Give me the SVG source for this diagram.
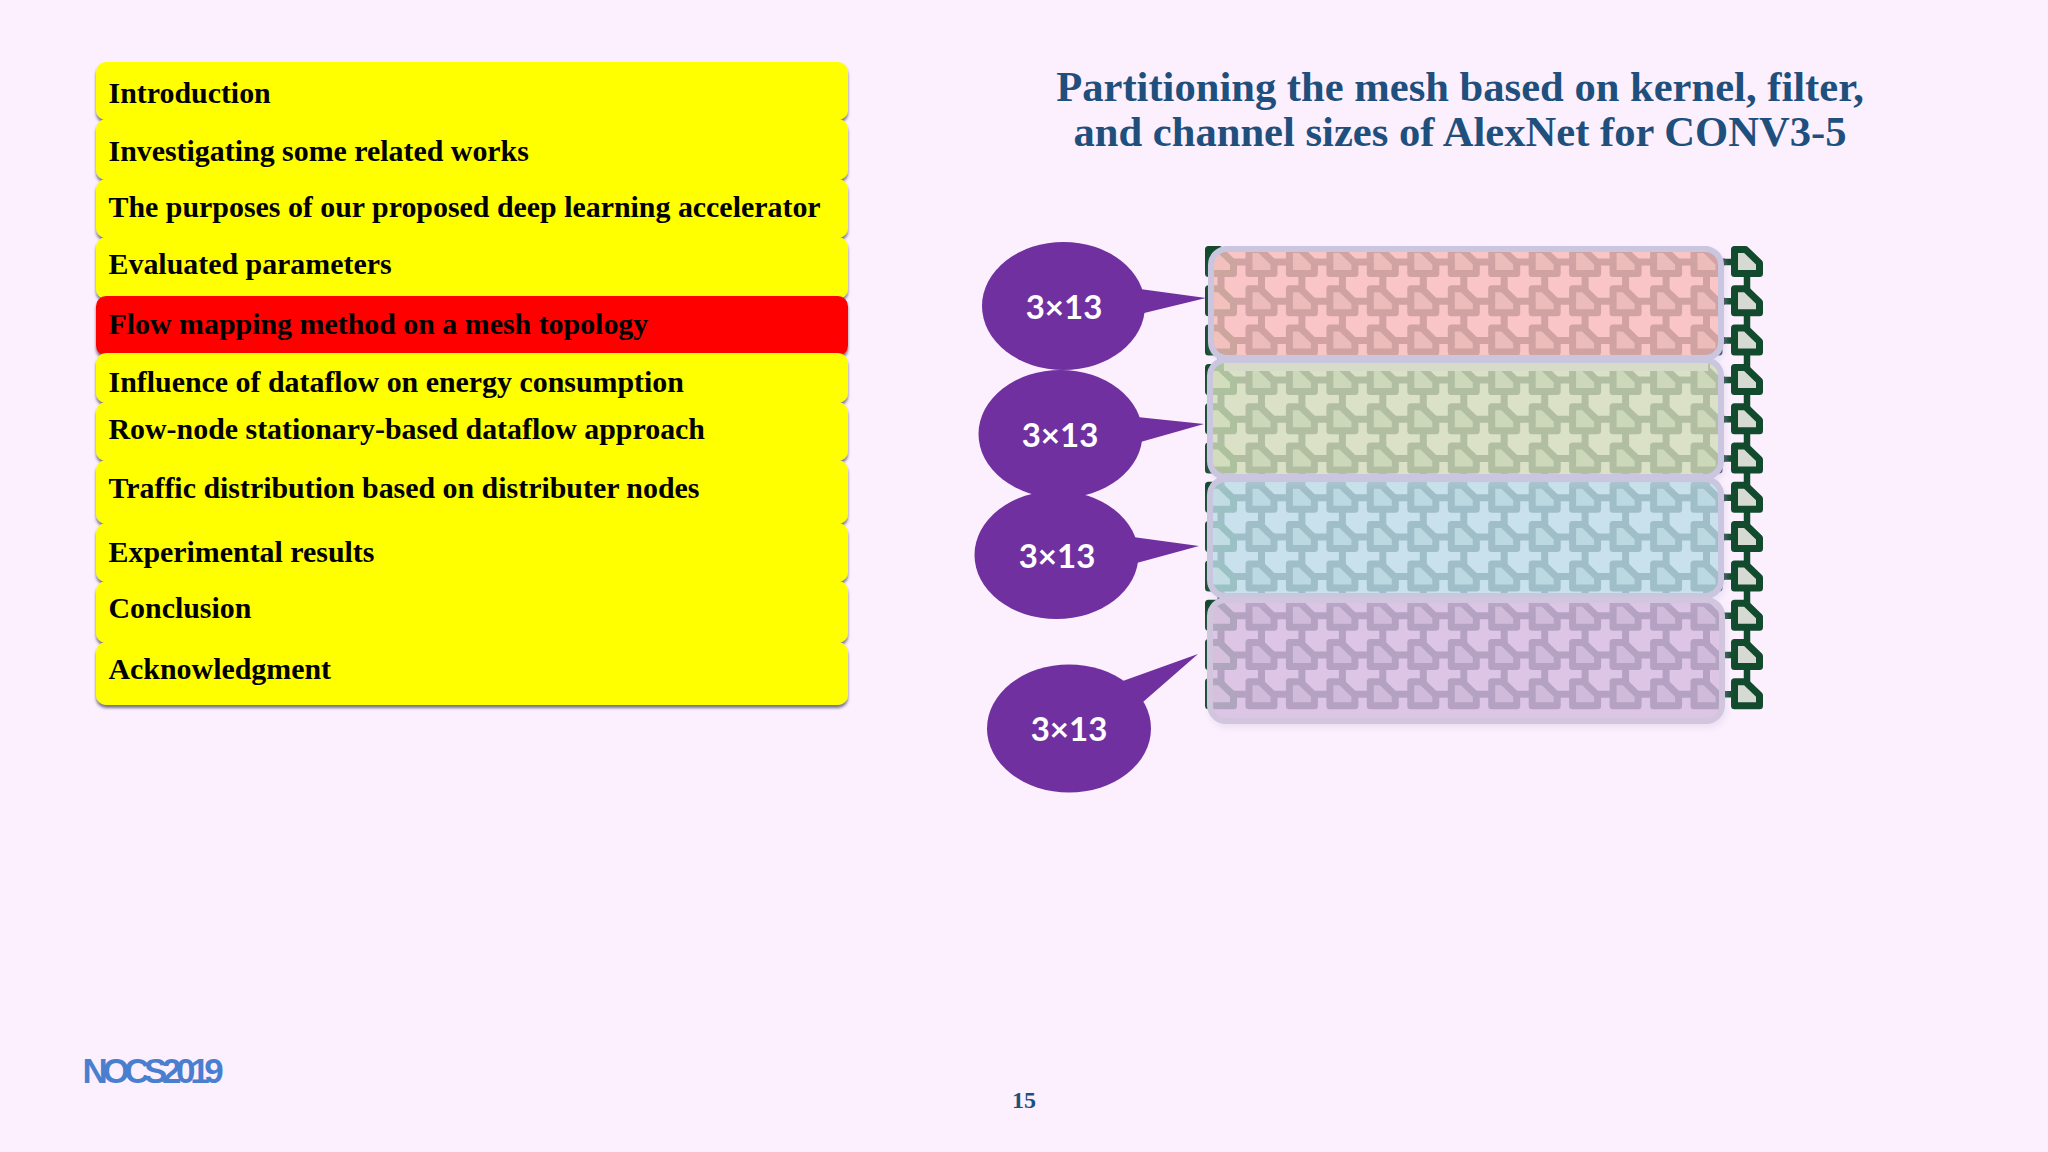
<svg xmlns="http://www.w3.org/2000/svg" width="2048" height="1152" viewBox="0 0 2048 1152">
<style>
.row{stroke:none;filter:url(#ls)}
.y{fill:#ffff00}.r{fill:#ff0000}
.t{font:bold 29.900px "Liberation Serif",serif;fill:#000}
.h{font:bold 42.600px "Liberation Serif",serif;fill:#1f4f7c;text-anchor:middle}
.b{fill:#7030a0}
.bt{font:bold 33px Lato,"Open Sans",sans-serif;fill:#fff;text-anchor:middle}
.band{stroke-width:6;filter:url(#bs)}
.lnk{fill:none;stroke:#2a3a44;stroke-width:7}
.lnk.e{stroke:#124a2e;stroke-width:6.500}
#mesh{fill:#b8c2c4;stroke:#2a3a44}
#mesh .e{fill:#d6dad2;stroke:#124a2e}
</style>
<defs>
<filter id="ls" x="-5%" y="-20%" width="110%" height="140%"><feDropShadow dx="0" dy="3" stdDeviation="1.500" flood-color="#55556a" flood-opacity=".8"/></filter>
<filter id="bs" x="-5%" y="-10%" width="110%" height="125%"><feDropShadow dx="2" dy="4" stdDeviation="3" flood-color="#c8c4dc" flood-opacity=".35"/></filter>
<path id="n" d="M3.500 3.500H14.500L28.500 17V27.500H3.500Z" stroke-width="7" stroke-linejoin="round"/>
</defs>
<rect width="2048" height="1152" fill="#fcf0fe"/>
<g id="toc">
<rect id="toc1" class="row y" x="96" y="62" width="752" height="58" rx="10"/>
<rect id="toc2" class="row y" x="96" y="119" width="752" height="61" rx="10"/>
<rect id="toc3" class="row y" x="96" y="179" width="752" height="59" rx="10"/>
<rect id="toc4" class="row y" x="96" y="237" width="752" height="62" rx="10"/>
<rect id="toc5" class="row r" x="96" y="296" width="752" height="60" rx="10"/>
<rect id="toc6" class="row y" x="96" y="353" width="752" height="50" rx="10"/>
<rect id="toc7" class="row y" x="96" y="402" width="752" height="59" rx="10"/>
<rect id="toc8" class="row y" x="96" y="460" width="752" height="64" rx="10"/>
<rect id="toc9" class="row y" x="96" y="523" width="752" height="59" rx="10"/>
<rect id="toc10" class="row y" x="96" y="581" width="752" height="62" rx="10"/>
<rect id="toc11" class="row y" x="96" y="642" width="752" height="63" rx="10"/>
<text class="t" x="108.500" y="102.700">Introduction</text>
<text class="t" x="108.500" y="160.700">Investigating some related works</text>
<text class="t" x="108.500" y="216.700">The purposes of our proposed deep learning accelerator</text>
<text class="t" x="108.500" y="273.700">Evaluated parameters</text>
<text class="t" x="108.500" y="333.700">Flow mapping method on a mesh topology</text>
<text class="t" x="108.500" y="391.700">Influence of dataflow on energy consumption</text>
<text class="t" x="108.500" y="438.700">Row-node stationary-based dataflow approach</text>
<text class="t" x="108.500" y="497.700">Traffic distribution based on distributer nodes</text>
<text class="t" x="108.500" y="561.700">Experimental results</text>
<text class="t" x="108.500" y="617.700">Conclusion</text>
<text class="t" x="108.500" y="678.700">Acknowledgment</text>
</g>
<text class="h" x="1460" y="100.600">Partitioning the mesh based on kernel, filter,</text>
<text class="h" x="1460" y="145.600">and channel sizes of AlexNet for CONV3-5</text>
<g id="connectors">
<path class="lnk" d="M1221 262H1725M1221 301.300H1725M1221 340.600H1725M1221 379.900H1725M1221 419.200H1725M1221 458.500H1725M1221 497.800H1725M1221 537.100H1725M1221 576.400H1725M1221 615.700H1725M1221 655H1725M1221 694.300H1725"/>
<path class="lnk" d="M1221 262V694M1261.500 262V694M1301.900 262V694M1342.400 262V694M1382.800 262V694M1423.300 262V694M1463.800 262V694M1504.200 262V694M1544.700 262V694M1585.100 262V694M1625.600 262V694M1666.100 262V694M1706.500 262V694"/>
<path class="lnk e" d="M1725 262H1747M1725 301.300H1747M1725 340.600H1747M1725 379.900H1747M1725 419.200H1747M1725 458.500H1747M1725 497.800H1747M1725 537.100H1747M1725 576.400H1747M1725 615.700H1747M1725 655H1747M1725 694.300H1747M1747 262V694"/>
</g>
<g id="mesh">
<g id="r0c0" class="e"><use href="#n" x="1205" y="246"/></g><g id="r0c1"><use href="#n" x="1245.500" y="246"/></g><g id="r0c2"><use href="#n" x="1285.900" y="246"/></g><g id="r0c3"><use href="#n" x="1326.400" y="246"/></g><g id="r0c4"><use href="#n" x="1366.800" y="246"/></g><g id="r0c5"><use href="#n" x="1407.300" y="246"/></g><g id="r0c6"><use href="#n" x="1447.800" y="246"/></g><g id="r0c7"><use href="#n" x="1488.200" y="246"/></g><g id="r0c8"><use href="#n" x="1528.700" y="246"/></g><g id="r0c9"><use href="#n" x="1569.100" y="246"/></g><g id="r0c10"><use href="#n" x="1609.600" y="246"/></g><g id="r0c11"><use href="#n" x="1650.100" y="246"/></g><g id="r0c12"><use href="#n" x="1690.500" y="246"/></g><g id="r0c13" class="e"><use href="#n" x="1731" y="246"/></g>
<g id="r1c0" class="e"><use href="#n" x="1205" y="285.300"/></g><g id="r1c1"><use href="#n" x="1245.500" y="285.300"/></g><g id="r1c2"><use href="#n" x="1285.900" y="285.300"/></g><g id="r1c3"><use href="#n" x="1326.400" y="285.300"/></g><g id="r1c4"><use href="#n" x="1366.800" y="285.300"/></g><g id="r1c5"><use href="#n" x="1407.300" y="285.300"/></g><g id="r1c6"><use href="#n" x="1447.800" y="285.300"/></g><g id="r1c7"><use href="#n" x="1488.200" y="285.300"/></g><g id="r1c8"><use href="#n" x="1528.700" y="285.300"/></g><g id="r1c9"><use href="#n" x="1569.100" y="285.300"/></g><g id="r1c10"><use href="#n" x="1609.600" y="285.300"/></g><g id="r1c11"><use href="#n" x="1650.100" y="285.300"/></g><g id="r1c12"><use href="#n" x="1690.500" y="285.300"/></g><g id="r1c13" class="e"><use href="#n" x="1731" y="285.300"/></g>
<g id="r2c0" class="e"><use href="#n" x="1205" y="324.600"/></g><g id="r2c1"><use href="#n" x="1245.500" y="324.600"/></g><g id="r2c2"><use href="#n" x="1285.900" y="324.600"/></g><g id="r2c3"><use href="#n" x="1326.400" y="324.600"/></g><g id="r2c4"><use href="#n" x="1366.800" y="324.600"/></g><g id="r2c5"><use href="#n" x="1407.300" y="324.600"/></g><g id="r2c6"><use href="#n" x="1447.800" y="324.600"/></g><g id="r2c7"><use href="#n" x="1488.200" y="324.600"/></g><g id="r2c8"><use href="#n" x="1528.700" y="324.600"/></g><g id="r2c9"><use href="#n" x="1569.100" y="324.600"/></g><g id="r2c10"><use href="#n" x="1609.600" y="324.600"/></g><g id="r2c11"><use href="#n" x="1650.100" y="324.600"/></g><g id="r2c12"><use href="#n" x="1690.500" y="324.600"/></g><g id="r2c13" class="e"><use href="#n" x="1731" y="324.600"/></g>
<g id="r3c0" class="e"><use href="#n" x="1205" y="363.900"/></g><g id="r3c1"><use href="#n" x="1245.500" y="363.900"/></g><g id="r3c2"><use href="#n" x="1285.900" y="363.900"/></g><g id="r3c3"><use href="#n" x="1326.400" y="363.900"/></g><g id="r3c4"><use href="#n" x="1366.800" y="363.900"/></g><g id="r3c5"><use href="#n" x="1407.300" y="363.900"/></g><g id="r3c6"><use href="#n" x="1447.800" y="363.900"/></g><g id="r3c7"><use href="#n" x="1488.200" y="363.900"/></g><g id="r3c8"><use href="#n" x="1528.700" y="363.900"/></g><g id="r3c9"><use href="#n" x="1569.100" y="363.900"/></g><g id="r3c10"><use href="#n" x="1609.600" y="363.900"/></g><g id="r3c11"><use href="#n" x="1650.100" y="363.900"/></g><g id="r3c12"><use href="#n" x="1690.500" y="363.900"/></g><g id="r3c13" class="e"><use href="#n" x="1731" y="363.900"/></g>
<g id="r4c0" class="e"><use href="#n" x="1205" y="403.200"/></g><g id="r4c1"><use href="#n" x="1245.500" y="403.200"/></g><g id="r4c2"><use href="#n" x="1285.900" y="403.200"/></g><g id="r4c3"><use href="#n" x="1326.400" y="403.200"/></g><g id="r4c4"><use href="#n" x="1366.800" y="403.200"/></g><g id="r4c5"><use href="#n" x="1407.300" y="403.200"/></g><g id="r4c6"><use href="#n" x="1447.800" y="403.200"/></g><g id="r4c7"><use href="#n" x="1488.200" y="403.200"/></g><g id="r4c8"><use href="#n" x="1528.700" y="403.200"/></g><g id="r4c9"><use href="#n" x="1569.100" y="403.200"/></g><g id="r4c10"><use href="#n" x="1609.600" y="403.200"/></g><g id="r4c11"><use href="#n" x="1650.100" y="403.200"/></g><g id="r4c12"><use href="#n" x="1690.500" y="403.200"/></g><g id="r4c13" class="e"><use href="#n" x="1731" y="403.200"/></g>
<g id="r5c0" class="e"><use href="#n" x="1205" y="442.500"/></g><g id="r5c1"><use href="#n" x="1245.500" y="442.500"/></g><g id="r5c2"><use href="#n" x="1285.900" y="442.500"/></g><g id="r5c3"><use href="#n" x="1326.400" y="442.500"/></g><g id="r5c4"><use href="#n" x="1366.800" y="442.500"/></g><g id="r5c5"><use href="#n" x="1407.300" y="442.500"/></g><g id="r5c6"><use href="#n" x="1447.800" y="442.500"/></g><g id="r5c7"><use href="#n" x="1488.200" y="442.500"/></g><g id="r5c8"><use href="#n" x="1528.700" y="442.500"/></g><g id="r5c9"><use href="#n" x="1569.100" y="442.500"/></g><g id="r5c10"><use href="#n" x="1609.600" y="442.500"/></g><g id="r5c11"><use href="#n" x="1650.100" y="442.500"/></g><g id="r5c12"><use href="#n" x="1690.500" y="442.500"/></g><g id="r5c13" class="e"><use href="#n" x="1731" y="442.500"/></g>
<g id="r6c0" class="e"><use href="#n" x="1205" y="481.800"/></g><g id="r6c1"><use href="#n" x="1245.500" y="481.800"/></g><g id="r6c2"><use href="#n" x="1285.900" y="481.800"/></g><g id="r6c3"><use href="#n" x="1326.400" y="481.800"/></g><g id="r6c4"><use href="#n" x="1366.800" y="481.800"/></g><g id="r6c5"><use href="#n" x="1407.300" y="481.800"/></g><g id="r6c6"><use href="#n" x="1447.800" y="481.800"/></g><g id="r6c7"><use href="#n" x="1488.200" y="481.800"/></g><g id="r6c8"><use href="#n" x="1528.700" y="481.800"/></g><g id="r6c9"><use href="#n" x="1569.100" y="481.800"/></g><g id="r6c10"><use href="#n" x="1609.600" y="481.800"/></g><g id="r6c11"><use href="#n" x="1650.100" y="481.800"/></g><g id="r6c12"><use href="#n" x="1690.500" y="481.800"/></g><g id="r6c13" class="e"><use href="#n" x="1731" y="481.800"/></g>
<g id="r7c0" class="e"><use href="#n" x="1205" y="521.100"/></g><g id="r7c1"><use href="#n" x="1245.500" y="521.100"/></g><g id="r7c2"><use href="#n" x="1285.900" y="521.100"/></g><g id="r7c3"><use href="#n" x="1326.400" y="521.100"/></g><g id="r7c4"><use href="#n" x="1366.800" y="521.100"/></g><g id="r7c5"><use href="#n" x="1407.300" y="521.100"/></g><g id="r7c6"><use href="#n" x="1447.800" y="521.100"/></g><g id="r7c7"><use href="#n" x="1488.200" y="521.100"/></g><g id="r7c8"><use href="#n" x="1528.700" y="521.100"/></g><g id="r7c9"><use href="#n" x="1569.100" y="521.100"/></g><g id="r7c10"><use href="#n" x="1609.600" y="521.100"/></g><g id="r7c11"><use href="#n" x="1650.100" y="521.100"/></g><g id="r7c12"><use href="#n" x="1690.500" y="521.100"/></g><g id="r7c13" class="e"><use href="#n" x="1731" y="521.100"/></g>
<g id="r8c0" class="e"><use href="#n" x="1205" y="560.400"/></g><g id="r8c1"><use href="#n" x="1245.500" y="560.400"/></g><g id="r8c2"><use href="#n" x="1285.900" y="560.400"/></g><g id="r8c3"><use href="#n" x="1326.400" y="560.400"/></g><g id="r8c4"><use href="#n" x="1366.800" y="560.400"/></g><g id="r8c5"><use href="#n" x="1407.300" y="560.400"/></g><g id="r8c6"><use href="#n" x="1447.800" y="560.400"/></g><g id="r8c7"><use href="#n" x="1488.200" y="560.400"/></g><g id="r8c8"><use href="#n" x="1528.700" y="560.400"/></g><g id="r8c9"><use href="#n" x="1569.100" y="560.400"/></g><g id="r8c10"><use href="#n" x="1609.600" y="560.400"/></g><g id="r8c11"><use href="#n" x="1650.100" y="560.400"/></g><g id="r8c12"><use href="#n" x="1690.500" y="560.400"/></g><g id="r8c13" class="e"><use href="#n" x="1731" y="560.400"/></g>
<g id="r9c0" class="e"><use href="#n" x="1205" y="599.700"/></g><g id="r9c1"><use href="#n" x="1245.500" y="599.700"/></g><g id="r9c2"><use href="#n" x="1285.900" y="599.700"/></g><g id="r9c3"><use href="#n" x="1326.400" y="599.700"/></g><g id="r9c4"><use href="#n" x="1366.800" y="599.700"/></g><g id="r9c5"><use href="#n" x="1407.300" y="599.700"/></g><g id="r9c6"><use href="#n" x="1447.800" y="599.700"/></g><g id="r9c7"><use href="#n" x="1488.200" y="599.700"/></g><g id="r9c8"><use href="#n" x="1528.700" y="599.700"/></g><g id="r9c9"><use href="#n" x="1569.100" y="599.700"/></g><g id="r9c10"><use href="#n" x="1609.600" y="599.700"/></g><g id="r9c11"><use href="#n" x="1650.100" y="599.700"/></g><g id="r9c12"><use href="#n" x="1690.500" y="599.700"/></g><g id="r9c13" class="e"><use href="#n" x="1731" y="599.700"/></g>
<g id="r10c0" class="e"><use href="#n" x="1205" y="639"/></g><g id="r10c1"><use href="#n" x="1245.500" y="639"/></g><g id="r10c2"><use href="#n" x="1285.900" y="639"/></g><g id="r10c3"><use href="#n" x="1326.400" y="639"/></g><g id="r10c4"><use href="#n" x="1366.800" y="639"/></g><g id="r10c5"><use href="#n" x="1407.300" y="639"/></g><g id="r10c6"><use href="#n" x="1447.800" y="639"/></g><g id="r10c7"><use href="#n" x="1488.200" y="639"/></g><g id="r10c8"><use href="#n" x="1528.700" y="639"/></g><g id="r10c9"><use href="#n" x="1569.100" y="639"/></g><g id="r10c10"><use href="#n" x="1609.600" y="639"/></g><g id="r10c11"><use href="#n" x="1650.100" y="639"/></g><g id="r10c12"><use href="#n" x="1690.500" y="639"/></g><g id="r10c13" class="e"><use href="#n" x="1731" y="639"/></g>
<g id="r11c0" class="e"><use href="#n" x="1205" y="678.300"/></g><g id="r11c1"><use href="#n" x="1245.500" y="678.300"/></g><g id="r11c2"><use href="#n" x="1285.900" y="678.300"/></g><g id="r11c3"><use href="#n" x="1326.400" y="678.300"/></g><g id="r11c4"><use href="#n" x="1366.800" y="678.300"/></g><g id="r11c5"><use href="#n" x="1407.300" y="678.300"/></g><g id="r11c6"><use href="#n" x="1447.800" y="678.300"/></g><g id="r11c7"><use href="#n" x="1488.200" y="678.300"/></g><g id="r11c8"><use href="#n" x="1528.700" y="678.300"/></g><g id="r11c9"><use href="#n" x="1569.100" y="678.300"/></g><g id="r11c10"><use href="#n" x="1609.600" y="678.300"/></g><g id="r11c11"><use href="#n" x="1650.100" y="678.300"/></g><g id="r11c12"><use href="#n" x="1690.500" y="678.300"/></g><g id="r11c13" class="e"><use href="#n" x="1731" y="678.300"/></g>
</g>
<g id="bands">
<rect id="band1" class="band" x="1211" y="249" width="510" height="109" rx="16" fill="#fcbab5" fill-opacity=".74" stroke="#cbc6e0"/>
<rect id="band2" class="band" x="1210" y="360" width="511" height="117" rx="16" fill="#d2e0b5" fill-opacity=".74" stroke="#cbc6e0"/>
<rect x="1224" y="363" width="484" height="8" fill="#d7dcc8"/>
<rect id="band3" class="band" x="1210" y="479" width="511" height="117" rx="16" fill="#bce0e8" fill-opacity=".74" stroke="#cbc6e0"/>
<rect id="band4" class="band" x="1210" y="600" width="512" height="121" rx="16" fill="#d6bae0" fill-opacity=".74" stroke="#d2c6de"/>
</g>
<g id="bubble1"><ellipse class="b" cx="1063.500" cy="306" rx="81.500" ry="64"/><path class="b" d="M1140 289L1206 298L1140 314Z"/><text class="bt" x="1064" y="319">3×13</text></g>
<g id="bubble2"><ellipse class="b" cx="1060.500" cy="434" rx="82" ry="64"/><path class="b" d="M1137 417L1204 424L1137 443Z"/><text class="bt" x="1060" y="447">3×13</text></g>
<g id="bubble3"><ellipse class="b" cx="1056.500" cy="555" rx="82" ry="64"/><path class="b" d="M1133 537L1199 546L1133 564Z"/><text class="bt" x="1057" y="568">3×13</text></g>
<g id="bubble4"><ellipse class="b" cx="1069" cy="728.500" rx="82" ry="64"/><path class="b" d="M1120 682L1198 654L1143 702Z"/><text class="bt" x="1069" y="741">3×13</text></g>
<text x="82.500" y="1083" font-family="'Liberation Sans',sans-serif" font-weight="bold" font-size="35" letter-spacing="-5.400" fill="#4a7fcf">NOCS2019</text>
<text x="1024" y="1108" font-family="'Liberation Serif',serif" font-weight="bold" font-size="24" fill="#1f4f7c" text-anchor="middle">15</text>
</svg>
